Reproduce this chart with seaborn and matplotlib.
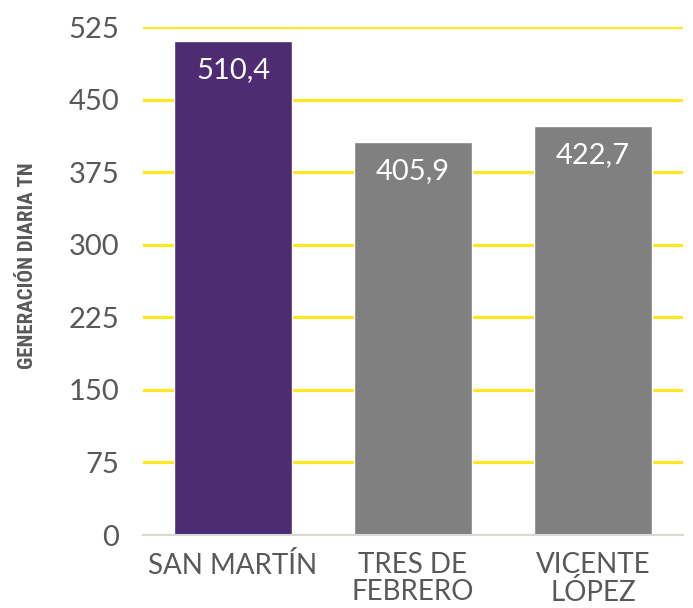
# %%
import matplotlib
matplotlib.use("Agg")
import pandas as pd
import seaborn as sns
from matplotlib import pyplot as plt

# %%
municipios = ["SAN MARTÍN", "TRES DE\nFEBRERO", "VICENTE\nLÓPEZ"]
generacion = [510.4, 405.9, 422.7]
colores = ["#4F2B74", "#808080", "#808080"]
yticks = [0, 75, 150, 225, 300, 375, 450, 525]

df = pd.DataFrame({"municipio": municipios, "tn": generacion})

# %%
sns.set_style("white")
plt.rcParams["font.family"] = ["Lato", "DejaVu Sans"]

fig = plt.figure(figsize=(6.93, 6.08), dpi=100)
ax = fig.add_axes([143 / 693, 73 / 608, 540 / 693, 508 / 608])

sns.barplot(
    data=df,
    x="municipio",
    y="tn",
    hue="municipio",
    palette=colores,
    width=0.66,
    saturation=1,
    legend=False,
    ax=ax,
    zorder=3,
)

ax.set_ylim(0, 525)
ax.set_xlim(-0.5, 2.5)
ax.set_yticks(yticks)
ax.set_yticklabels([str(t) for t in yticks])
ax.grid(axis="y", color="#FFE81F", linewidth=2.3, zorder=0)
ax.grid(axis="x", visible=False)
for s in ["top", "right", "left"]:
    ax.spines[s].set_visible(False)
ax.spines["bottom"].set_color("#D9D9D9")
ax.spines["bottom"].set_linewidth(1.5)
ax.spines["bottom"].set_zorder(4)

ax.tick_params(axis="y", length=0, pad=17, labelsize=21, labelcolor="#595959")
ax.tick_params(axis="x", length=0, pad=12, labelsize=20, labelcolor="#595959")
for lbl in ax.get_xticklabels():
    lbl.set_linespacing(1.08)

# bar labels inside, near the top
for cont in ax.containers:
    ax.bar_label(
        cont,
        labels=[f"{v:.1f}".replace(".", ",") for v in cont.datavalues],
        label_type="edge",
        padding=-30,
        color="white",
        fontsize=21,
    )

ax.set_xlabel("")
ax.set_ylabel(
    "GENERACIÓN DIARIA TN",
    fontsize=15,
    fontweight="bold",
    fontstretch="condensed",
    color="#595959",
    family=["Roboto Condensed", "Liberation Sans Narrow", "Roboto", "DejaVu Sans"],
)
ax.yaxis.set_label_coords(-0.196, 0.531)

fig.savefig("out.png", dpi=100)
